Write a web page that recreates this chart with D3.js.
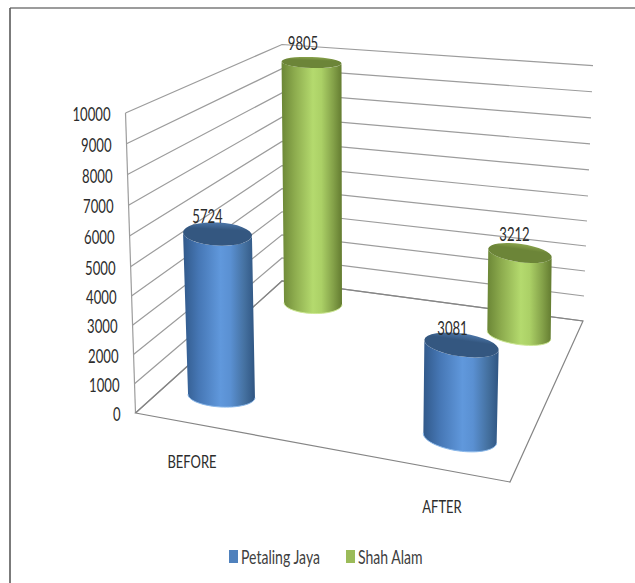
<!DOCTYPE html>
<html>
<head>
<meta charset="utf-8">
<script src="https://cdn.jsdelivr.net/npm/d3@7"></script>
<style>
  html, body { margin: 0; padding: 0; background: #fff; }
  svg { display: block; }
  text { font-family: Lato, "Liberation Sans", Arial, sans-serif; fill: #2c2c2c; }
</style>
</head>
<body>
<div id="chart"></div>
<script>
const categories = ["BEFORE", "AFTER"];
const seriesNames = ["Petaling Jaya", "Shah Alam"];
const petalingJaya = [5724, 3081];
const shahAlam = [9805, 3212];
const yTicks = [0, 1000, 2000, 3000, 4000, 5000, 6000, 7000, 8000, 9000, 10000];

const W = 635, H = 583;
const svg = d3.select("#chart").append("svg").attr("width", W).attr("height", H);
const defs = svg.append("defs");

// Vertical edges of the 3D box as screen positions at values 0, 5000 and 10000;
// the middle stop carries the slight perspective foreshortening.
const corners = {
  frontLeft:  { x: [135.5, 130.5, 125.5], y: [413, 266.7, 113] },
  backLeft:   { x: [282, 282, 282],       y: [281, 165.6, 44.5] },
  backRight:  { x: [583, 588, 593],       y: [321, 196, 65.7] }
};
const frontRightFloor = [510, 482];
const edge = c => ({
  x: d3.scaleLinear().domain([0, 5000, 10000]).range(c.x),
  y: d3.scaleLinear().domain([0, 5000, 10000]).range(c.y)
});
const fl = edge(corners.frontLeft), bl = edge(corners.backLeft), br = edge(corners.backRight);

// Frame around the chart area
svg.append("line").attr("x1", 10).attr("y1", 8).attr("x2", 635).attr("y2", 8)
  .attr("stroke", "#7b7b7b").attr("stroke-width", 1.6);
svg.append("line").attr("x1", 10).attr("y1", 8).attr("x2", 10).attr("y2", 583)
  .attr("stroke", "#5a5a5a").attr("stroke-width", 1.6);

// Gridlines on the two walls
const grid = svg.append("g").attr("fill", "none").attr("stroke", "#9c9c9c").attr("stroke-width", 1.2);
grid.selectAll("polyline.gridline").data(yTicks).join("polyline")
  .attr("class", "gridline")
  .attr("points", d => [[fl.x(d), fl.y(d)], [bl.x(d), bl.y(d)], [br.x(d), br.y(d)]].join(" "));
grid.append("line").attr("x1", fl.x(0)).attr("y1", fl.y(0)).attr("x2", fl.x(10000)).attr("y2", fl.y(10000));

// Floor outline
svg.append("polygon")
  .attr("points", [[fl.x(0), fl.y(0)], frontRightFloor, [br.x(0), br.y(0)], [bl.x(0), bl.y(0)]].join(" "))
  .attr("fill", "none").attr("stroke", "#858585").attr("stroke-width", 1.2);

// Horizontally condensed text, as the chart's type is set
const label = (g, x, y, txt, size, anchor, sx) =>
  g.append("text")
    .attr("transform", `translate(${x},${y}) scale(${sx},1)`)
    .attr("text-anchor", anchor)
    .attr("font-size", size)
    .attr("dy", "0.36em")
    .text(txt);

// Value-axis labels follow the slanted front edge of the left wall
const tickLabels = svg.append("g");
yTicks.forEach(t => label(tickLabels, fl.x(t) - 15, fl.y(t) + 1.5, String(t), 18.5, "end", 0.71));

// Cylinder placement: foot, position of the 10000 level above it, and ellipse shapes
const slots = {
  "Petaling Jaya|BEFORE": { foot: [221.5, 396], peak: [214.5, 113],
    top: { rx: 34.5, ry: 11.5, tilt: 3 }, base: { rx: 33.5, ry: 11, tilt: 3 }, labelAt: [207.5, 216] },
  "Shah Alam|BEFORE": { foot: [313, 303.5], peak: [311.5, 57.7],
    top: { rx: 30, ry: 5.5, tilt: 2 }, base: { rx: 29, ry: 10, tilt: 2 }, labelAt: [303, 43] },
  "Petaling Jaya|AFTER": { foot: [460, 438], peak: [464.9, 136.1],
    top: { rx: 37.5, ry: 11.5, tilt: 8 }, base: { rx: 37, ry: 13, tilt: 8 }, labelAt: [452.5, 328] },
  "Shah Alam|AFTER": { foot: [519, 335], peak: [522, 79.7],
    top: { rx: 32, ry: 9, tilt: 8 }, base: { rx: 32, ry: 9.5, tilt: 8 }, labelAt: [514.5, 234] }
};

const palette = {
  "Petaling Jaya": { shades: ["#31598a", "#4677b5", "#6098dc", "#5a90d2", "#44709f", "#2f5582"],
    capHi: "#4c76a9", cap: "#345780", rim: "#8ab8ea", swatch: "#4f81bd" },
  "Shah Alam": { shades: ["#6b8636", "#8dac4e", "#b4da6e", "#abd066", "#83a048", "#637b30"],
    capHi: "#8aa44c", cap: "#6c8538", rim: "#cde894", swatch: "#9bbb59" }
};
const bodyStops = [0, 0.22, 0.52, 0.66, 0.86, 1];

Object.entries(palette).forEach(([name, p], i) => {
  const g = defs.append("linearGradient").attr("id", "body" + i)
    .attr("x1", "0%").attr("x2", "100%").attr("y1", "0%").attr("y2", "0%");
  bodyStops.forEach((o, k) => g.append("stop").attr("offset", o).attr("stop-color", p.shades[k]));
  const c = defs.append("linearGradient").attr("id", "cap" + i)
    .attr("x1", "0%").attr("x2", "0%").attr("y1", "0%").attr("y2", "100%");
  c.append("stop").attr("offset", 0).attr("stop-color", p.capHi);
  c.append("stop").attr("offset", 0.3).attr("stop-color", p.cap);
  c.append("stop").attr("offset", 1).attr("stop-color", p.cap);
});

// Point on an ellipse rotated by tilt degrees
const ellipsePoint = (c, e, a) => {
  const t = e.tilt * Math.PI / 180;
  const ex = e.rx * Math.cos(a), ey = e.ry * Math.sin(a);
  return [c[0] + ex * Math.cos(t) - ey * Math.sin(t), c[1] + ex * Math.sin(t) + ey * Math.cos(t)];
};

const bars = [
  ...categories.map((c, i) => ({ series: seriesNames[1], si: 1, cat: c, value: shahAlam[i] })),
  ...categories.map((c, i) => ({ series: seriesNames[0], si: 0, cat: c, value: petalingJaya[i] }))
];

// Back row is listed first so the nearer cylinders sit on top
const cyl = svg.append("g").selectAll("g.cyl").data(bars).join("g").attr("class", "cyl");

cyl.each(function (d) {
  const s = slots[d.series + "|" + d.cat];
  const p = palette[d.series];
  const sx = d3.scaleLinear().domain([0, 10000]).range([s.foot[0], s.peak[0]]);
  const sy = d3.scaleLinear().domain([0, 10000]).range([s.foot[1], s.peak[1]]);
  const footC = [sx(0), sy(0)], topC = [sx(d.value), sy(d.value)];
  const g = d3.select(this);

  const line = d3.line();
  const angles = d3.range(0, 181, 5).map(v => v * Math.PI / 180);
  const lower = angles.map(a => ellipsePoint(footC, s.base, a));
  const upper = angles.map(a => ellipsePoint(topC, s.top, a)).reverse();
  g.append("path").attr("d", line(lower.concat(upper)) + "Z").attr("fill", `url(#body${d.si})`);
  g.append("path").attr("d", line(lower)).attr("fill", "none").attr("stroke", p.rim).attr("stroke-width", 1);

  const rotate = `rotate(${s.top.tilt},${topC[0]},${topC[1]})`;
  g.append("ellipse").attr("cx", topC[0]).attr("cy", topC[1])
    .attr("rx", s.top.rx).attr("ry", s.top.ry).attr("transform", rotate).attr("fill", `url(#cap${d.si})`);
});

// Value labels are drawn over the cylinders
const valueLabels = svg.append("g");
bars.forEach(d => {
  const s = slots[d.series + "|" + d.cat];
  label(valueLabels, s.labelAt[0], s.labelAt[1], String(d.value), 18.5, "middle", 0.71);
});

// Category labels
const catLabels = svg.append("g");
const catPositions = { BEFORE: [192, 462], AFTER: [442, 507] };
categories.forEach(c => label(catLabels, catPositions[c][0], catPositions[c][1], c, 18, "middle", 0.72));

// Legend
const legend = svg.append("g");
const legendPos = { "Petaling Jaya": 229, "Shah Alam": 346 };
seriesNames.forEach(n => {
  legend.append("rect").attr("x", legendPos[n]).attr("y", 550).attr("width", 9).attr("height", 13)
    .attr("fill", palette[n].swatch);
  label(legend, legendPos[n] + 12, 556.5, n, 19.5, "start", 0.72).style("fill", "#404040");
});
</script>
</body>
</html>
